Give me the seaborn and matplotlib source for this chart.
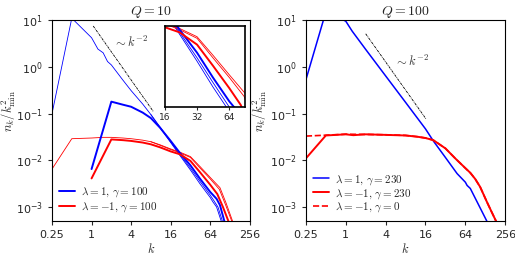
# Occupation spectra n_k for Q = 10 and Q = 100

import numpy as np
import matplotlib
matplotlib.use("Agg")
import matplotlib.pyplot as plt
import matplotlib.ticker as mticker
import seaborn as sns

# ---- Q = 10 panel ----
k_thin_b = [0.25, 0.5, 1, 1.25, 1.5, 1.75, 2, 3, 4, 6, 8, 11, 16, 22, 32, 45, 64, 70, 80, 94, 110]
n_thin_b = [0.1, 11, 4.2, 2.4, 2.0, 1.3, 1.1, 0.52, 0.31, 0.16, 0.095, 0.05, 0.024, 0.0128,
            0.0062, 0.0031, 0.0016, 0.0013, 0.001, 0.0005, 0.0003]
k_thin_b2 = [8, 11, 16, 22, 32, 45, 64, 72, 84, 98, 115]
n_thin_b2 = [0.095, 0.052, 0.025, 0.0135, 0.0068, 0.0035, 0.0018, 0.0014, 0.001, 0.0005, 0.0003]

k_thick_b = [1, 2, 3, 4, 6, 8, 11, 16, 22, 32, 45, 64, 80, 90, 105, 128]
n_thick_b = [0.0065, 0.18, 0.155, 0.14, 0.105, 0.08, 0.05, 0.026, 0.0145, 0.0078, 0.0040,
             0.0021, 0.0015, 0.0011, 0.0005, 0.00025]

k_thin_r = [0.25, 0.5, 1, 1.5, 2, 3, 4, 6, 8, 11, 16, 22, 32, 45, 64, 88, 110, 136, 160]
n_thin_r = [0.0065, 0.029, 0.030, 0.031, 0.031, 0.030, 0.029, 0.027, 0.025, 0.021, 0.017,
            0.0145, 0.0115, 0.0068, 0.0040, 0.0024, 0.0011, 0.0005, 0.0003]
k_thin_r2 = [8, 11, 16, 22, 32, 45, 64, 90, 112, 140, 165]
n_thin_r2 = [0.025, 0.0215, 0.0175, 0.015, 0.012, 0.0073, 0.0043, 0.0026, 0.0012, 0.0005, 0.0003]

k_thick_r = [1, 2, 3, 4, 6, 8, 11, 16, 22, 32, 45, 64, 82, 100, 121, 140]
n_thick_r = [0.0041, 0.028, 0.027, 0.026, 0.024, 0.022, 0.019, 0.0155, 0.0135, 0.0097,
             0.0055, 0.0030, 0.0019, 0.001, 0.0005, 0.0003]

# ---- Q = 100 panel ----
k_b100 = [0.25, 0.5, 1, 1.25, 2, 4, 8, 16, 21, 32, 48, 64, 68, 76, 96, 135, 160]
n_b100 = [0.53, 15, 9.5, 5.8, 2.36, 0.64, 0.174, 0.047, 0.026, 0.0115, 0.0052, 0.0034,
          0.0029, 0.0025, 0.0013, 0.0005, 0.00032]

k_r100 = [0.25, 0.5, 1, 1.3, 2, 4, 8, 12, 16, 21, 32, 45, 64, 76, 90, 107, 135, 160, 186, 210]
n_r100 = [0.011, 0.034, 0.036, 0.0345, 0.036, 0.035, 0.034, 0.032, 0.030, 0.027, 0.018,
          0.011, 0.0068, 0.0054, 0.0040, 0.0027, 0.0013, 0.00078, 0.0005, 0.0003]

k_r0 = [0.25, 0.5, 1, 2, 4, 8, 12, 16, 21, 32, 45, 64, 76, 90, 107, 135, 160, 186, 210]
n_r0 = [0.033, 0.0345, 0.0362, 0.0358, 0.0352, 0.0341, 0.032, 0.030, 0.027, 0.018,
        0.011, 0.0068, 0.0054, 0.0040, 0.0027, 0.0013, 0.00078, 0.0005, 0.0003]

# k^-2 guide lines: (k range, prefactor)
guide_k10 = [1.06, 8.8]
guide_c10 = 8.4
guide_k100 = [2.0, 16.2]
guide_c100 = 20.4

xticks = [0.25, 1, 4, 16, 64, 256]
xticklabels = ["0.25", "1", "4", "16", "64", "256"]
inset_ticks = [16, 32, 64]

sns.set_style("ticks")
plt.rcParams["mathtext.fontset"] = "cm"
plt.rcParams["font.family"] = ["DejaVu Sans"]

BLUE = (0, 0, 1)
RED = (1, 0, 0)


def line(ax, k, n, color, lw, ls="-", label="_nolegend_"):
    sns.lineplot(x=k, y=n, ax=ax, color=color, linewidth=lw, linestyle=ls,
                 estimator=None, sort=False, label=label, legend=False)


def style_main(ax, title, ylab_x):
    ax.set_xscale("log", base=2)
    ax.set_yscale("log")
    ax.set_xlim(0.25, 256)
    ax.set_ylim(5e-4, 10)
    ax.set_xticks(xticks)
    ax.set_xticklabels(xticklabels)
    ax.xaxis.set_minor_locator(mticker.NullLocator())
    ax.yaxis.set_minor_locator(mticker.NullLocator())
    ax.yaxis.set_major_locator(mticker.FixedLocator([1e-3, 1e-2, 1e-1, 1, 10]))
    ax.yaxis.set_major_formatter(mticker.LogFormatterMathtext())
    ax.tick_params(labelsize=8, length=3, width=0.8)
    ax.set_xlabel("$k$", fontsize=9, labelpad=1)
    ax.set_ylabel(r"$n_k/k_{\min}^2$", fontsize=9)
    ax.yaxis.set_label_coords(ylab_x, 0.55)
    ax.set_title(f"$Q = {title}$", fontsize=10, pad=3)
    for s in ax.spines.values():
        s.set_linewidth(0.8)
        s.set_color("black")


fig = plt.figure(figsize=(5.15, 2.58), dpi=100)
ax1 = fig.add_axes([0.101, 0.143, 0.384, 0.779])
ax2 = fig.add_axes([0.594, 0.143, 0.387, 0.779])

# left panel
line(ax1, k_thin_b, n_thin_b, BLUE, 0.6)
line(ax1, k_thin_b2, n_thin_b2, BLUE, 0.6)
line(ax1, k_thin_r, n_thin_r, RED, 0.6)
line(ax1, k_thin_r2, n_thin_r2, RED, 0.6)
line(ax1, k_thick_b, n_thick_b, BLUE, 1.4, label=r"$\lambda=1,\,\gamma=100$")
line(ax1, k_thick_r, n_thick_r, RED, 1.4, label=r"$\lambda=-1,\,\gamma=100$")
gk = np.array(guide_k10)
ax1.plot(gk, guide_c10 * gk ** -2.0, color="black", lw=0.6, ls=(0, (3, 1, 1, 1)))
ax1.text(2.1, 3.3, r"$\sim k^{-2}$", fontsize=9, ha="left", va="center", color="#333333")
style_main(ax1, 10, -0.172)
ax1.legend(loc="lower left", frameon=False, fontsize=8, handlelength=1.5,
           handletextpad=0.5, borderaxespad=0.2, labelspacing=0.1,
           bbox_to_anchor=(0.0, 0.0))

# right panel
line(ax2, k_b100, n_b100, BLUE, 1.1, label=r"$\lambda=1,\,\gamma=230$")
line(ax2, k_r100, n_r100, RED, 1.4, label=r"$\lambda=-1,\,\gamma=230$")
line(ax2, k_r0, n_r0, RED, 1.2, ls="--", label=r"$\lambda=-1,\,\gamma=0$")
gk = np.array(guide_k100)
ax2.plot(gk, guide_c100 * gk ** -2.0, color="black", lw=0.6, ls=(0, (3, 1, 1, 1)))
ax2.text(5.4, 1.3, r"$\sim k^{-2}$", fontsize=9, ha="left", va="center", color="#333333")
style_main(ax2, 100, -0.185)
ax2.legend(loc="lower left", frameon=False, fontsize=8, handlelength=1.5,
           handletextpad=0.5, borderaxespad=0.2, labelspacing=0.0,
           bbox_to_anchor=(0.0, 0.0))

# inset
axi = fig.add_axes([0.320, 0.585, 0.155, 0.314])
line(axi, k_thin_b, n_thin_b, BLUE, 0.6)
line(axi, k_thin_b2, n_thin_b2, BLUE, 0.6)
line(axi, k_thin_r, n_thin_r, RED, 0.6)
line(axi, k_thin_r2, n_thin_r2, RED, 0.6)
line(axi, k_thick_b, n_thick_b, BLUE, 1.4)
line(axi, k_thick_r, n_thick_r, RED, 1.4)
axi.set_xscale("log", base=2)
axi.set_yscale("log")
axi.set_xlim(16, 89)
axi.set_ylim(1.8e-3, 1.6e-2)
axi.set_xticks(inset_ticks)
axi.set_xticklabels([str(t) for t in inset_ticks])
axi.xaxis.set_minor_locator(mticker.NullLocator())
axi.yaxis.set_minor_locator(mticker.NullLocator())
axi.set_yticks([])
axi.set_xlabel("")
axi.set_ylabel("")
axi.tick_params(labelsize=6.5, length=2.5, width=0.8, pad=1.5)
for s in axi.spines.values():
    s.set_linewidth(1.2)
    s.set_color("black")

fig.savefig("out.png", dpi=100)
